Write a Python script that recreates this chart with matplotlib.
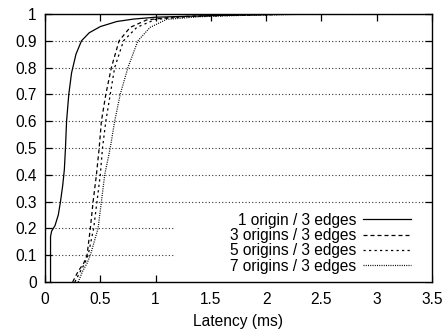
import matplotlib
matplotlib.use("Agg")
import matplotlib.pyplot as plt
import matplotlib.patches as mpatches

plt.rcParams["font.family"] = ["Liberation Sans", "DejaVu Sans"]
plt.rcParams["font.size"] = 11.2

# CDF of latency (ms)
one_x = [0.05, 0.05, 0.06, 0.09, 0.12, 0.14, 0.16, 0.175, 0.185, 0.195, 0.215, 0.24,
         0.28, 0.33, 0.40, 0.50, 0.65, 0.80, 1.0, 1.5, 2.0, 2.3, 2.5]
one_y = [0.0, 0.17, 0.19, 0.21, 0.25, 0.30, 0.36, 0.42, 0.50, 0.60, 0.70, 0.78,
         0.85, 0.90, 0.93, 0.953, 0.972, 0.981, 0.988, 0.994, 0.998, 1.0, 1.0]

three_x = [0.25, 0.30, 0.35, 0.38, 0.41, 0.435, 0.465, 0.49, 0.51, 0.55, 0.60, 0.67,
           0.77, 0.92, 1.2, 1.6, 2.0, 2.5]
three_y = [0.0, 0.04, 0.07, 0.10, 0.20, 0.30, 0.40, 0.50, 0.60, 0.70, 0.80, 0.90,
           0.95, 0.978, 0.99, 0.995, 0.998, 1.0]

five_x = [0.27, 0.32, 0.36, 0.39, 0.44, 0.47, 0.50, 0.52, 0.55, 0.59, 0.63, 0.71,
          0.83, 1.0, 1.3, 1.7, 2.1, 2.5]
five_y = [0.0, 0.04, 0.07, 0.10, 0.20, 0.30, 0.40, 0.50, 0.60, 0.70, 0.80, 0.90,
          0.95, 0.98, 0.99, 0.995, 0.998, 1.0]

seven_x = [0.30, 0.34, 0.38, 0.41, 0.48, 0.51, 0.54, 0.59, 0.63, 0.68, 0.75, 0.84,
           0.95, 1.1, 1.4, 1.8, 2.2, 2.5]
seven_y = [0.0, 0.04, 0.07, 0.10, 0.20, 0.30, 0.40, 0.50, 0.60, 0.70, 0.80, 0.90,
           0.95, 0.98, 0.99, 0.995, 0.998, 1.0]

labels = ["1 origin / 3 edges", "3 origins / 3 edges",
          "5 origins / 3 edges", "7 origins / 3 edges"]
x_ticks = [0, 0.5, 1, 1.5, 2, 2.5, 3, 3.5]
x_ticklabels = ["0", "0.5", "1", "1.5", "2", "2.5", "3", "3.5"]
y_ticks = [0, 0.1, 0.2, 0.3, 0.4, 0.5, 0.6, 0.7, 0.8, 0.9, 1]
y_ticklabels = ["0", "0.1", "0.2", "0.3", "0.4", "0.5", "0.6", "0.7", "0.8", "0.9", "1"]

styles = ["-", (0, (3.2, 2.4)), (0, (1.8, 2.6)), (0, (0.8, 1.0))]

fig = plt.figure(figsize=(4.47, 3.30), dpi=100)
ax = fig.add_axes([0.1007, 0.1455, 0.8657, 0.8121])

series = [(one_x, one_y), (three_x, three_y), (five_x, five_y), (seven_x, seven_y)]
for (xs, ys), ls, lab in zip(series, styles, labels):
    ax.plot(xs, ys, color="black", linestyle=ls, linewidth=0.9, label=lab, zorder=3)

ax.set_xlim(0, 3.5)
ax.set_ylim(0, 1)
ax.set_xticks(x_ticks)
ax.set_xticklabels(x_ticklabels)
ax.set_yticks(y_ticks)
ax.set_yticklabels(y_ticklabels)
ax.set_xlabel("Latency (ms)", labelpad=5)

ax.tick_params(direction="in", top=True, right=True, length=5, width=0.9)
ax.tick_params(axis="x", pad=7)
ax.tick_params(axis="y", pad=6)
for sp in ax.spines.values():
    sp.set_linewidth(1.0)

ax.grid(axis="y", linestyle=(0, (1, 2)), color="#333333", linewidth=0.8)
ax.set_axisbelow(True)

# key box (white) hides the grid under it, like gnuplot
ax.add_patch(mpatches.Rectangle((0.336, 0.0), 0.664, 0.25, transform=ax.transAxes,
                                facecolor="white", edgecolor="none", zorder=1.5))

leg = ax.legend(loc="lower right", bbox_to_anchor=(0.975, -0.01), markerfirst=False,
                frameon=False, handlelength=3.1, handletextpad=0.45,
                labelspacing=0.02, borderaxespad=0.3)

fig.savefig("out.png", dpi=100)
